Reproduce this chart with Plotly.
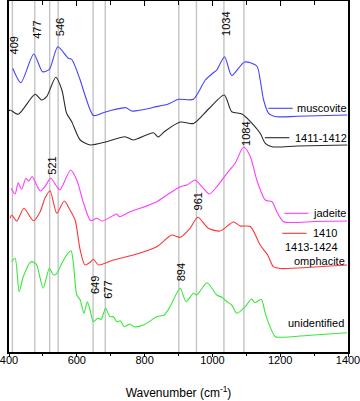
import plotly.graph_objects as go

# ---- data (arbitrary intensity units, offset spectra) ----
musc_wn = [411, 435, 473, 499, 519, 544, 575, 585, 610, 624, 649, 678, 698, 745, 762, 816, 826, 870, 900, 944, 979, 1002, 1013, 1036, 1057, 1095, 1131, 1141, 1151, 1166, 1190, 1250, 1398]
musc_int = [283.7, 269.3, 298, 280.3, 282.7, 305.3, 293.7, 292.7, 272, 257, 236.5, 239.3, 241.3, 244.3, 241, 243.7, 244.7, 248, 252.7, 252.7, 272, 279, 282, 295.3, 276.5, 290, 286, 272, 252, 238.7, 235.3, 235.7, 237]

s1411_wn = [400, 403, 427, 477, 496, 511, 538, 556, 570, 585, 610, 639, 688, 742, 767, 826, 840, 858, 905, 944, 990, 1035, 1057, 1087, 1117, 1141, 1156, 1176, 1250, 1398]
s1411_int = [241, 242, 237.7, 257.7, 252, 255.3, 274.7, 262, 238.7, 230.3, 212, 207, 210.3, 215.3, 212, 219.3, 215, 220.3, 230, 228.5, 243.5, 257, 240.3, 238, 228.7, 218.7, 208.7, 205.3, 206, 207]

jad_wn = [406, 418, 427, 437, 450, 458, 468, 477, 492, 506, 523, 541, 550, 582, 600, 620, 641, 659, 674, 698, 718, 726, 757, 787, 836, 866, 905, 925, 949, 969, 991, 1013, 1043, 1067, 1092, 1112, 1131, 1156, 1176, 1190, 1210, 1300, 1397]
jad_int = [163.7, 158, 169.3, 162.7, 173.7, 171, 175.5, 170.3, 161, 165.3, 173.7, 165.3, 162, 182, 172, 148.7, 131.3, 133.7, 131, 134.7, 138, 135.3, 140.3, 143.7, 150.3, 157, 165.3, 167, 172, 165.3, 158, 165.3, 178.7, 188.7, 205, 195.3, 172, 152, 150.3, 140.3, 130.3, 130.5, 131]

omph_wn = [403, 408, 423, 444, 472, 492, 506, 521, 541, 563, 580, 595, 610, 624, 639, 649, 664, 708, 767, 836, 880, 905, 934, 957, 988, 1023, 1062, 1082, 1112, 1141, 1163, 1180, 1200, 1300, 1397]
omph_int = [133.7, 137, 131, 143.7, 131.3, 140.3, 153.7, 161.3, 138.7, 151, 142, 132, 102, 87, 89.7, 92.7, 87, 92, 97, 105.3, 117, 114.7, 123.7, 134.7, 123.7, 121, 130, 126, 125.5, 107, 97, 85.3, 83.5, 85, 87]

unid_wn = [408, 418, 430, 442, 465, 475, 482, 501, 519, 531, 541, 556, 570, 583, 590, 600, 610, 621, 631, 639, 649, 662, 672, 685, 698, 708, 718, 728, 740, 757, 769, 797, 836, 858, 875, 905, 922, 944, 954, 984, 1013, 1028, 1043, 1057, 1072, 1097, 1115, 1126, 1144, 1156, 1166, 1185, 1200, 1300, 1397]
unid_int = [90.3, 93.7, 60.3, 75.3, 90.3, 89.3, 87, 63.7, 83.7, 77, 78.7, 88.7, 97, 101.3, 88.7, 57, 52, 38.7, 50.3, 42, 30.3, 33.7, 32.7, 43.7, 35.3, 35.3, 30.3, 31.3, 25.3, 28, 25.3, 27, 35.3, 37, 45.3, 63.7, 50.3, 58.7, 57, 69.3, 57, 54.7, 50.3, 47, 38.7, 45.3, 53, 49.3, 52.7, 38.7, 28.7, 15.3, 14.7, 17, 19.3]

# reference peak lines (drawn position) and their labels
peak_lines = [410, 476, 520, 545, 648, 684, 901, 953, 1034, 1093]
peak_labels = ["409", "477", "521", "546", "649", "677", "894", "961", "1034", "1084"]
peak_label_y = [307, 322, 186, 325, 67, 62.5, 79.5, 151, 328, 218]

x_ticks = [400, 600, 800, 1000, 1200, 1400]

FONT = "Liberation Sans, Arial, sans-serif"

series = [
    (musc_wn, musc_int, "#4343ff", "muscovite"),
    (s1411_wn, s1411_int, "#2a2a2a", "1411-1412"),
    (jad_wn, jad_int, "#ff3cff", "jadeite"),
    (omph_wn, omph_int, "#ff3636", "omphacite"),
    (unid_wn, unid_int, "#38e838", "unidentified"),
]

fig = go.Figure()

# grey peak lines
for p in peak_lines:
    fig.add_shape(type="line", x0=p, x1=p, y0=0, y1=1, xref="x", yref="paper",
                  line=dict(color="#c4c4c4", width=1.4), layer="below")

for wn, it, col, name in series:
    fig.add_trace(go.Scatter(x=wn, y=it, mode="lines", name=name,
                             line=dict(color=col, width=1.1, shape="spline", smoothing=0.7),
                             showlegend=False))

# dummy trace on top axis for mirrored inside ticks
fig.add_trace(go.Scatter(x=[400, 1400], y=[0, 0], xaxis="x2", mode="lines",
                         line=dict(width=0), showlegend=False, hoverinfo="skip"))

# peak labels
for p, lab, yy in zip(peak_lines, peak_labels, peak_label_y):
    fig.add_annotation(x=p, y=yy, text=lab, textangle=-90, showarrow=False,
                       xshift=2, font=dict(family=FONT, size=11, color="black"))

# in-plot legend entries
leg = [
    ("muscovite", "#4343ff", 1165, 1237, 243.7, 1245),
    ("1411-1412", "#2a2a2a", 1155, 1227, 214.3, 1238),
    ("jadeite", "#ff3cff", 1212, 1283, 138.7, 1290),
    ("1410", "#ff3636", 1206, 1278, 118.7, 1292),
]
for txt, col, x0, x1, yy, xt in leg:
    fig.add_shape(type="line", x0=x0, x1=x1, y0=yy, y1=yy, xref="x", yref="y",
                  line=dict(color=col, width=1.1))
    fig.add_annotation(x=xt, y=yy, text=txt, showarrow=False, xanchor="left",
                       font=dict(family=FONT, size=11, color="black"))
fig.add_annotation(x=1209, y=104.7, text="1413-1424", showarrow=False, xanchor="left",
                   font=dict(family=FONT, size=11, color="black"))
fig.add_annotation(x=1397, y=91, text="omphacite", showarrow=False, xanchor="right",
                   font=dict(family=FONT, size=11, color="black"))
fig.add_annotation(x=1395, y=28.7, text="unidentified", showarrow=False, xanchor="right",
                   font=dict(family=FONT, size=11, color="black"))

fig.update_layout(
    width=360, height=401,
    margin=dict(l=9, r=12, t=1, b=49, autoexpand=False),
    paper_bgcolor="white", plot_bgcolor="white",
    font=dict(family=FONT, size=11, color="black"),
    xaxis=dict(range=[400, 1400], tickvals=x_ticks, ticks="outside", ticklen=3,
               tickwidth=1, tickcolor="black", automargin=False,
               ticklabeloverflow="allow", ticklabelstandoff=-6,
               minor=dict(dtick=100, ticks="outside", ticklen=2, tickcolor="black", tickwidth=1),
               showline=True, linecolor="black", linewidth=1.5, mirror=True,
               showgrid=False, zeroline=False,
               tickfont=dict(family=FONT, size=11),
               title=dict(text="Wavenumber (cm<sup>-1</sup>)", standoff=24,
                          font=dict(family=FONT, size=12))),
    xaxis2=dict(range=[400, 1400], overlaying="x", side="top", tickvals=x_ticks,
                ticks="inside", ticklen=5, tickcolor="black", showticklabels=False,
                automargin=False,
                minor=dict(dtick=100, ticks="inside", ticklen=4, tickcolor="black"),
                showgrid=False, zeroline=False, showline=False),
    yaxis=dict(range=[0, 351], showticklabels=False, ticks="", showgrid=False,
               automargin=False,
               zeroline=False, showline=True, linecolor="black", linewidth=1.5, mirror=True),
)

fig.write_html("out.html", config={"displayModeBar": False},
               post_script="document.body.style.margin='0';document.body.style.overflow='hidden';")
